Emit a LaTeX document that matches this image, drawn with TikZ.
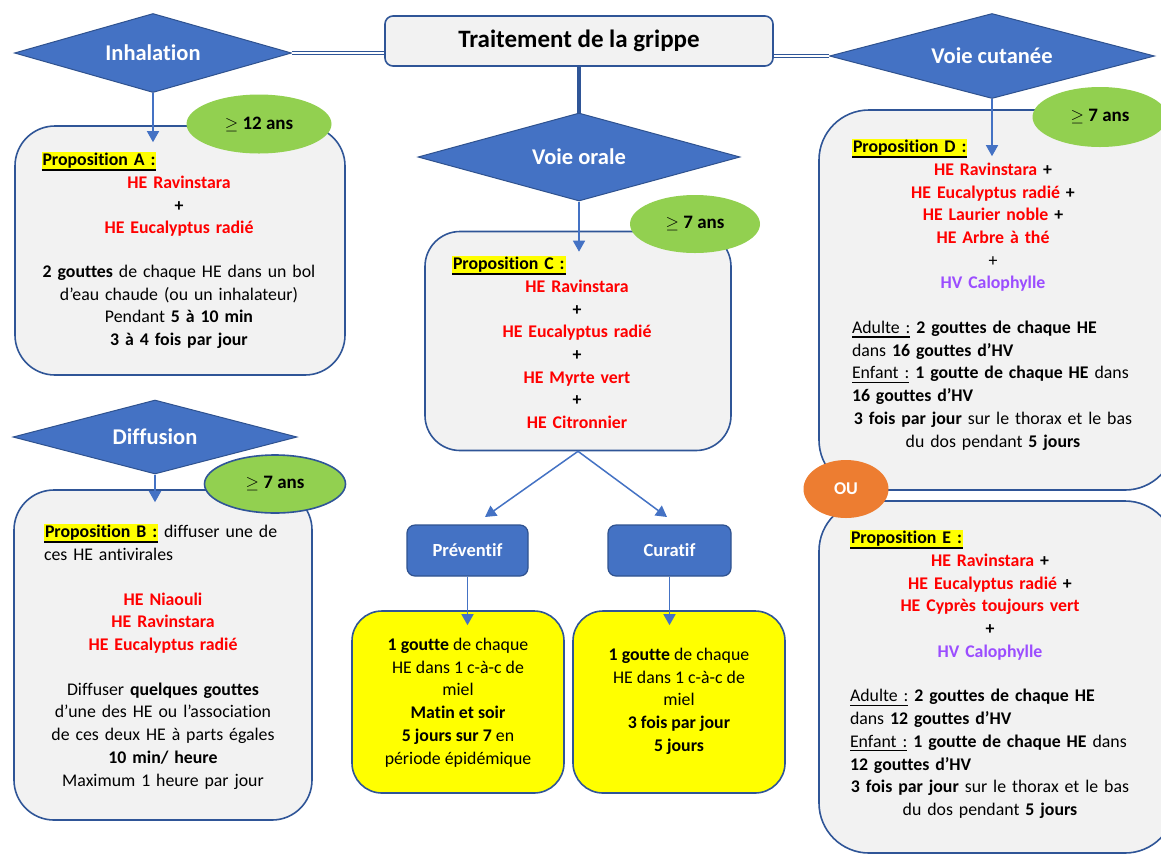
\documentclass[tikz,border=0pt]{standalone}
\usepackage{fontspec}
\setmainfont{Carlito}[Ligatures=NoCommon]
\usetikzlibrary{shapes.geometric, arrows.meta, positioning, calc}
\definecolor{boxline}{HTML}{2F5597}
\definecolor{boxfill}{HTML}{F2F2F2}
\definecolor{dblue}{HTML}{4472C4}
\definecolor{dborder}{HTML}{2F528F}
\definecolor{agegreen}{HTML}{92D050}
\definecolor{ouorange}{HTML}{ED7D31}
\definecolor{hlyellow}{HTML}{FFFF00}
\definecolor{hered}{HTML}{FF0000}
\definecolor{hvpurple}{HTML}{9B4DFF}
\newcommand{\he}[1]{\textcolor{hered}{\textbf{#1}}}
\newcommand{\hv}[1]{\textcolor{hvpurple}{\textbf{#1}}}
\newcommand{\lft}[1]{\makebox[\hsize][l]{\hspace{6pt}#1}}
\newcommand{\proptag}[1]{\vtop{\hbox{\fboxsep=1pt\colorbox{hlyellow}{\textbf{#1}}}\kern-0.5pt\hrule height 2pt}}
\newcommand{\ultag}[1]{\vtop{\hbox{#1}\kern2.5pt\hrule height 1.5pt}}

\begin{document}
\begin{tikzpicture}[x=1pt, y=-1pt,
    every node/.style={inner sep=0pt, font=\fontsize{17.8}{22.7}\selectfont},
    way/.style={diamond, aspect=4, fill=dblue, draw=dborder, line width=1pt, text=white,
      font=\fontsize{22.5}{24}\selectfont\bfseries},
    card/.style={rectangle, rounded corners=#1, fill=boxfill, draw=boxline, line width=1.6pt},
    card/.default=40pt,
    dose/.style={card=30pt, fill=hlyellow},
    kind/.style={rectangle, rounded corners=8pt, fill=dblue, draw=dborder, line width=1.2pt,
      text=white, font=\fontsize{18.5}{20}\selectfont\bfseries},
    age/.style={ellipse, fill=agegreen, font=\fontsize{19}{20}\selectfont},
    txt/.style={anchor=north, align=center},
    link/.style={draw=boxline, line width=0.9pt, double=white, double distance=2pt},
    trunk/.style={draw=boxline, line width=4.5pt},
    arr/.style={draw=dblue, line width=1.5pt, -{Triangle[width=12pt,length=11pt]}}]
  \useasboundingbox (0,0) rectangle (1161,855);
  \fill[white] (0,0) rectangle (1161,855);
  \clip (0,0) rectangle (1161,855);

  \node[rectangle, rounded corners=8pt, fill=boxfill, draw=boxline, line width=1.6pt,
    minimum width=388pt, minimum height=50pt, font=\fontsize{25}{27}\selectfont\bfseries]
    (title) at (579,41) {Traitement de la grippe};

  \node[way, minimum width=277pt, minimum height=79pt] (inh) at (153,53) {Inhalation};
  \node[way, minimum width=325pt, minimum height=85pt] (cut) at (992,56) {Voie cutanée};
  \node[way, minimum width=322pt, minimum height=88pt] (orale) at (579,157) {Voie orale};
  \node[way, minimum width=284pt, minimum height=74pt] (diff) at (155,437) {Diffusion};

  \draw[link] (inh.east) -- (inh.east -| title.west);
  \draw[link] (title.east |- cut.west) -- (cut.west);
  \draw[trunk] (title.south) -- (orale.north);

  \node[card, minimum width=330pt, minimum height=249pt] (boxA) at (180,250.5) {};
  \node[card, minimum width=298pt, minimum height=330pt] (boxB) at (163,655) {};
  \node[card=35pt, minimum width=306pt, minimum height=219pt] (boxC) at (578,341) {};
  \node[card=50pt, minimum width=356pt, minimum height=380pt] (boxD) at (997,300) {};
  \node[card=50pt, minimum width=356pt, minimum height=352pt] (boxE) at (997,677) {};

  \node[kind, minimum width=121pt, minimum height=51pt] (prev) at (467.5,550.5) {Préventif};
  \node[kind, minimum width=123pt, minimum height=51pt] (cur) at (669.5,550.5) {Curatif};
  \node[dose, minimum width=212pt, minimum height=182pt] (yel1) at (458,702) {};
  \node[dose, minimum width=212pt, minimum height=182pt] (yel2) at (679,702) {};

  \node[txt, text width=287pt] (textA) at (179,152) {
    \lft{\proptag{Proposition A :}}\\
    \he{HE Ravinstara}\\
    \textbf{+}\\
    \he{HE Eucalyptus radié}\\[21pt]
    \textbf{2 gouttes} de chaque HE dans un bol\\
    d’eau chaude (ou un inhalateur)\\
    Pendant \textbf{5 à 10 min}\\
    \textbf{3 à 4 fois par jour}};

  \node[txt, text width=250pt] (textB) at (163,524) {
    \lft{\proptag{Proposition B :} diffuser une de}\\
    \lft{ces HE antivirales}\\[22pt]
    \he{HE Niaouli}\\
    \he{HE Ravinstara}\\
    \he{HE Eucalyptus radié}\\[22pt]
    Diffuser \textbf{quelques gouttes}\\
    d’une des HE ou l’association\\
    de ces deux HE à parts égales\\
    \textbf{10 min/ heure}\\
    Maximum 1 heure par jour};

  \node[txt, text width=262pt] (textC) at (577,256) {
    \lft{\proptag{Proposition C :}}\\
    \he{HE Ravinstara}\\
    \textbf{+}\\
    \he{HE Eucalyptus radié}\\
    \textbf{+}\\
    \he{HE Myrte vert}\\
    \textbf{+}\\
    \he{HE Citronnier}};

  \node[txt, text width=294pt] (textD) at (993,139) {
    \lft{\proptag{Proposition D :}}\\
    \he{HE Ravinstara} \textbf{+}\\
    \he{HE Eucalyptus radié} \textbf{+}\\
    \he{HE Laurier noble} \textbf{+}\\
    \he{HE Arbre à thé}\\
    +\\
    \hv{HV Calophylle}\\[22pt]
    \lft{\ultag{Adulte :} \textbf{2 gouttes de chaque HE}}\\
    \lft{dans \textbf{16 gouttes d’HV}}\\
    \lft{\ultag{Enfant :} \textbf{1 goutte de chaque HE} dans}\\
    \lft{\textbf{16 gouttes d’HV}}\\
    \textbf{3 fois par jour} sur le thorax et le bas\\
    du dos pendant \textbf{5 jours}};

  \node[txt, text width=292pt] (textE) at (990,530) {
    \lft{\proptag{Proposition E :}}\\
    \he{HE Ravinstara} \textbf{+}\\
    \he{HE Eucalyptus radié} \textbf{+}\\
    \he{HE Cyprès toujours vert}\\
    \textbf{+}\\
    \hv{HV Calophylle}\\[22pt]
    \lft{\ultag{Adulte :} \textbf{2 gouttes de chaque HE}}\\
    \lft{dans \textbf{12 gouttes d’HV}}\\
    \lft{\ultag{Enfant :} \textbf{1 goutte de chaque HE} dans}\\
    \lft{\textbf{12 gouttes d’HV}}\\
    \textbf{3 fois par jour} sur le thorax et le bas\\
    du dos pendant \textbf{5 jours}};

  \node[txt] (text1) at (458,638) {
    \textbf{1 goutte} de chaque\\
    HE dans 1 c-à-c de\\
    miel\\
    \textbf{Matin et soir}\\
    \textbf{5 jours sur 7} en\\
    période épidémique};

  \node[txt] (text2) at (679,648) {
    \textbf{1 goutte} de chaque\\
    HE dans 1 c-à-c de\\
    miel\\
    \textbf{3 fois par jour}\\
    \textbf{5 jours}};

  \node[age, minimum width=145pt, minimum height=59pt] (ageA) at (259,124) {$\geq$ \textbf{12 ans}};
  \node[age, draw=boxline, line width=1.6pt, minimum width=141pt, minimum height=58pt] (ageB) at (275,484) {$\geq$ \textbf{7 ans}};
  \node[age, minimum width=130pt, minimum height=58pt] (ageC) at (695,224) {$\geq$ \textbf{7 ans}};
  \node[age, minimum width=135pt, minimum height=60pt] (ageD) at (1100,117) {$\geq$ \textbf{7 ans}};
  \node[ellipse, fill=ouorange, minimum width=85pt, minimum height=58pt, text=white,
    font=\fontsize{18}{20}\selectfont\bfseries] (ou) at (846,489) {OU};

  \coordinate (prevIn) at (485,517);
  \coordinate (curIn) at (667,517);
  \draw[arr] (inh.south) -- ($(inh.south |- boxA.north)+(0,17)$);
  \draw[arr] (diff.south) -- ($(diff.south |- boxB.north)+(0,13)$);
  \draw[arr] (orale.south) -- ($(orale.south |- boxC.north)+(0,21)$);
  \draw[arr] (cut.south) -- ($(cut.south |- boxD.north)+(0,47)$);
  \draw[arr] (boxC.south) -- (prevIn);
  \draw[arr] (boxC.south) -- (curIn);
  \draw[arr] (prev.south) -- ($(prev.south |- yel1.north)+(0,15)$);
  \draw[arr] (cur.south) -- ($(cur.south |- yel2.north)+(0,15)$);
\end{tikzpicture}
\end{document}
